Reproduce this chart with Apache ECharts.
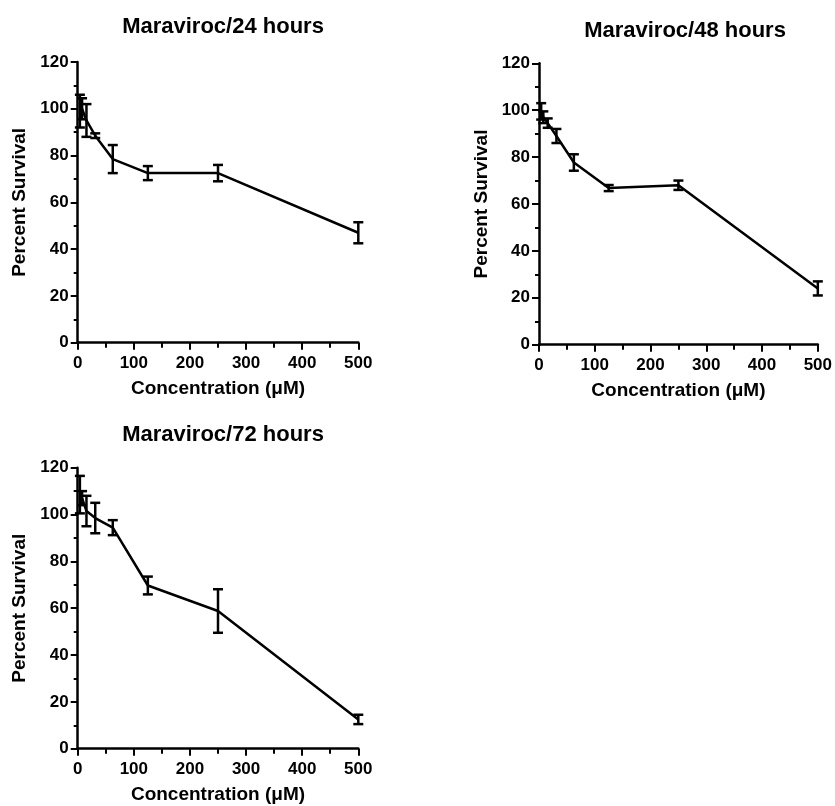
<!DOCTYPE html>
<html>
<head>
<meta charset="utf-8">
<script src="https://cdn.jsdelivr.net/npm/echarts@6/dist/echarts.min.js"></script>
<style>
html,body{margin:0;padding:0;background:#fff;}
#chart{width:835px;height:806px;}
</style>
</head>
<body>
<div id="chart"></div>
<script>
// Concentrations (µM)
var concentrations = [3.9, 7.8, 15.6, 31.25, 62.5, 125, 250, 500];
// Percent survival means and error (SEM) per time point
var mean24 = [99, 100, 95, 88.5, 78.5, 72.5, 72.5, 47];
var err24  = [7, 4.5, 7, 1, 6, 3, 3.5, 4.5];
var mean48 = [99.5, 97, 94.5, 89, 77.7, 66.8, 68, 24];
var err48  = [3.5, 2.5, 2, 3, 3.5, 1.3, 2, 3];
var mean72 = [108.5, 107, 101.5, 98.5, 94.4, 69.7, 58.8, 12.5];
var err72  = [8, 3, 6.5, 6.5, 3.2, 3.8, 9.3, 2];
var titles = ['Maraviroc/24 hours', 'Maraviroc/48 hours', 'Maraviroc/72 hours'];
var xTicks = [0, 100, 200, 300, 400, 500];
var yTicks = [0, 20, 40, 60, 80, 100, 120];

var FONT = '"Liberation Sans", Arial, Helvetica, sans-serif';
var panels = [
  {mean: mean24, err: err24, grid: {left: 77.7, top: 62, width: 280.6, height: 280.7}, titleX: 218, titleY: 11},
  {mean: mean48, err: err48, grid: {left: 539, top: 63.3, width: 281.7, height: 281.4}, titleX: 680, titleY: 15},
  {mean: mean72, err: err72, grid: {left: 77.7, top: 467.7, width: 280.6, height: 281}, titleX: 218, titleY: 419}
];

function pts(mean) { return concentrations.map(function (c, i) { return [c, mean[i]]; }); }
function errPts(mean, err) { return concentrations.map(function (c, i) { return [c, mean[i], err[i]]; }); }

function renderErr(params, api) {
  var x = api.value(0), y = api.value(1), e = api.value(2);
  var top = api.coord([x, y + e]);
  var bot = api.coord([x, y - e]);
  var hw = 5;
  var st = {stroke: '#000', lineWidth: 2.5};
  return {
    type: 'group',
    children: [
      {type: 'line', shape: {x1: top[0], y1: top[1], x2: bot[0], y2: bot[1]}, style: st},
      {type: 'line', shape: {x1: top[0] - hw, y1: top[1], x2: top[0] + hw, y2: top[1]}, style: st},
      {type: 'line', shape: {x1: bot[0] - hw, y1: bot[1], x2: bot[0] + hw, y2: bot[1]}, style: st}
    ]
  };
}

var grids = [], xAxes = [], yAxes = [], series = [], title = [];
panels.forEach(function (p, i) {
  grids.push(Object.assign({containLabel: false}, p.grid));
  title.push({
    text: titles[i], left: p.titleX, top: p.titleY, textAlign: 'center',
    textStyle: {fontFamily: FONT, fontWeight: 'bold', fontSize: 22, color: '#000'}
  });
  xAxes.push({
    type: 'value', gridIndex: i, min: xTicks[0], max: xTicks[xTicks.length - 1], interval: 100,
    name: 'Concentration (\u03bcM)', nameLocation: 'middle', nameGap: 37,
    nameTextStyle: {fontFamily: FONT, fontWeight: 'bold', fontSize: 19, color: '#000'},
    axisLine: {show: true, onZero: false, lineStyle: {color: '#000', width: 2.5}},
    axisTick: {show: true, length: 7, lineStyle: {color: '#000', width: 2}},
    minorTick: {show: true, splitNumber: 2, length: 5, lineStyle: {color: '#000', width: 2}},
    axisLabel: {fontFamily: FONT, fontWeight: 'bold', fontSize: 17, color: '#000', margin: 12},
    splitLine: {show: false}, minorSplitLine: {show: false}
  });
  yAxes.push({
    type: 'value', gridIndex: i, min: yTicks[0], max: yTicks[yTicks.length - 1], interval: 20,
    name: 'Percent Survival', nameLocation: 'middle', nameGap: 48,
    nameTextStyle: {fontFamily: FONT, fontWeight: 'bold', fontSize: 19, color: '#000'},
    axisLine: {show: true, onZero: false, lineStyle: {color: '#000', width: 2.5}},
    axisTick: {show: true, length: 7, lineStyle: {color: '#000', width: 2}},
    minorTick: {show: true, splitNumber: 2, length: 4, lineStyle: {color: '#000', width: 2}},
    axisLabel: {fontFamily: FONT, fontWeight: 'bold', fontSize: 17, color: '#000', margin: 9},
    splitLine: {show: false}, minorSplitLine: {show: false}
  });
  series.push({
    type: 'line', xAxisIndex: i, yAxisIndex: i, data: pts(p.mean),
    symbol: 'none', lineStyle: {color: '#000', width: 2.5}, animation: false
  });
  series.push({
    type: 'custom', xAxisIndex: i, yAxisIndex: i, data: errPts(p.mean, p.err),
    renderItem: renderErr, encode: {x: 0, y: 1}, animation: false, clip: false
  });
});

var chart = echarts.init(document.getElementById('chart'), null, {renderer: 'canvas'});
chart.setOption({
  backgroundColor: '#fff',
  animation: false,
  title: title,
  grid: grids,
  xAxis: xAxes,
  yAxis: yAxes,
  series: series
});
</script>
</body>
</html>
